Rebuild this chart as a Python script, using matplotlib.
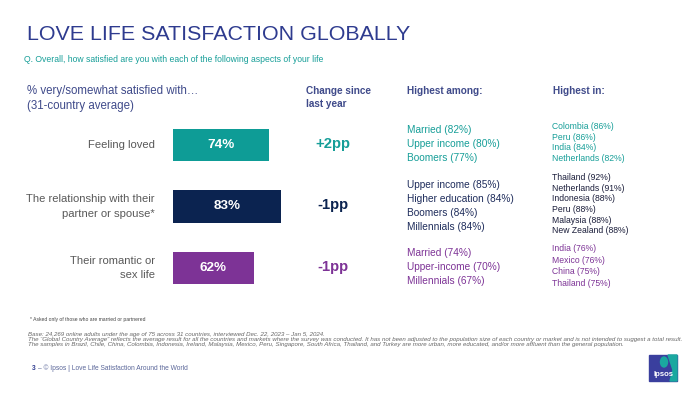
import matplotlib
matplotlib.use("Agg")
import matplotlib.pyplot as plt
from matplotlib.patches import Rectangle, Polygon, Ellipse

plt.rcParams['font.family'] = ['Liberation Sans', 'DejaVu Sans']

# ---------------- data ----------------
categories = ["Feeling loved",
              "The relationship with their\npartner or spouse*",
              "Their romantic or\nsex life"]
values = [74, 83, 62]
changes = ["+2pp", "-1pp", "-1pp"]
highest_among = [
    ["Married (82%)", "Upper income (80%)", "Boomers (77%)"],
    ["Upper income (85%)", "Higher education (84%)", "Boomers (84%)", "Millennials (84%)"],
    ["Married (74%)", "Upper-income (70%)", "Millennials (67%)"],
]
highest_in = [
    ["Colombia (86%)", "Peru (86%)", "India (84%)", "Netherlands (82%)"],
    ["Thailand (92%)", "Netherlands (91%)", "Indonesia (88%)", "Peru (88%)",
     "Malaysia (88%)", "New Zealand (88%)"],
    ["India (76%)", "Mexico (76%)", "China (75%)", "Thailand (75%)"],
]
title = "LOVE LIFE SATISFACTION GLOBALLY"
subtitle = "Q. Overall, how satisfied are you with each of the following aspects of your life"
footnote = "* Asked only of those who are married or partnered"
notes = [
    "Base: 24,269 online adults under the age of 75 across 31 countries, interviewed Dec. 22, 2023 \u2013 Jan 5, 2024.",
    "The \u201cGlobal Country Average\u201d reflects the average result for all the countries and markets where the survey was conducted. It has not been adjusted to the population size of each country or market and is not intended to suggest a total result.",
    "The samples in Brazil, Chile, China, Colombia, Indonesia, Ireland, Malaysia, Mexico, Peru, Singapore, South Africa, Thailand, and Turkey are more urban, more educated, and/or more affluent than the general population.",
]

# ---------------- style ----------------
bar_colors = ["#0E9C96", "#0B2350", "#7D3396"]
among_colors = ["#169E98", "#1F2D5C", "#7D3396"]
in_colors = ["#169E98", "#1A1D3A", "#7D3396"]
change_colors = ["#169E98", "#0B2350", "#7D3396"]
blue = "#2E3B8F"
head_blue = "#3F4A8A"
gray = "#595959"

W, H = 700, 394
fig = plt.figure(figsize=(7, 3.94), dpi=100)
fig.patch.set_facecolor("white")


def fx(x):
    return x / W


def fy(y):
    return 1 - y / H


def T(x, y, s, **kw):
    fig.text(fx(x), fy(y), s, **kw)


# bars
top_c, step = 144.7, 61.8
n_bars = len(values)
ax = fig.add_axes([fx(173), 1 - (top_c - step / 2 + n_bars * step) / H,
                   130 / W, n_bars * step / H])
ax.barh(range(n_bars), values, height=0.52, color=bar_colors)
ax.set_xlim(0, 100)
ax.set_ylim(n_bars - 0.5, -0.5)
ax.axis("off")
for i, v in enumerate(values):
    ax.text(v / 2, i, f"{v}%", ha="center", va="center", color="white",
            fontweight="bold", fontsize=9.7)

# title + subtitle
T(27, 35, title, fontsize=15.4, color=blue, va="center", ha="left")
T(24, 59, subtitle, fontsize=6.25, color="#169E98", va="center", ha="left")

# column heads
T(27, 91, "% very/somewhat satisfied with\u2026", fontsize=8.3, color=head_blue, va="center")
T(27, 106, "(31-country average)", fontsize=8.3, color=head_blue, va="center")
T(306, 91, "Change since", fontsize=7.2, color=head_blue, va="center", fontweight="bold")
T(306, 103.7, "last year", fontsize=7.2, color=head_blue, va="center", fontweight="bold")
T(407, 91, "Highest among:", fontsize=7.2, color=head_blue, va="center", fontweight="bold")
T(553, 91, "Highest in:", fontsize=7.2, color=head_blue, va="center", fontweight="bold")

in_steps = [10.5, 10.7, 11.5]
for i in range(n_bars):
    c = top_c + i * step
    T(155, c, categories[i], fontsize=8.1, color=gray, ha="right", va="center",
      linespacing=1.55)
    T(333, c - 1, changes[i], fontsize=10.7, fontweight="bold", color=change_colors[i],
      ha="center", va="center")
    n = len(highest_among[i])
    for j, s in enumerate(highest_among[i]):
        T(407, c - 1 + (j - (n - 1) / 2) * 14, s, fontsize=7.3, color=among_colors[i], va="center")
    n = len(highest_in[i])
    for j, s in enumerate(highest_in[i]):
        T(552, c - 2.3 + (j - (n - 1) / 2) * in_steps[i], s, fontsize=6.2,
          color=in_colors[i], va="center")

# footnotes
T(30, 319, footnote, fontsize=3.6, color="#444444", va="center")
for k, s in enumerate(notes):
    T(28, 334.5 + k * 5.0, s, fontsize=4.4, color="#666666", style="italic", va="center")

T(32, 368, "3", fontsize=4.8, color="#2E3B8F", fontweight="bold", va="center")
T(37.5, 368, "\u2013 \u00a9 Ipsos | Love Life Satisfaction Around the World", fontsize=4.8,
  color="#5A6699", va="center")

# Ipsos logo
lx0, ly0, lx1, ly1 = 649, 355, 677, 381
fig.patches.append(Rectangle((fx(lx0), fy(ly1)), (lx1 - lx0) / W, (ly1 - ly0) / H,
                             transform=fig.transFigure, color="#3A3F9E", zorder=1))
fig.patches.append(Polygon([(fx(668), fy(ly0)), (fx(lx1), fy(ly0)), (fx(lx1), fy(ly1)),
                            (fx(670), fy(ly1)), (fx(673), fy(370))],
                           closed=True, transform=fig.transFigure, color="#1AA8A0", zorder=2))
fig.patches.append(Ellipse((fx(664), fy(362)), 7 / W, 10 / H, transform=fig.transFigure,
                           color="#1AA8A0", zorder=3))
T(663, 375, "Ipsos", fontsize=5.6, color="white", fontweight="bold", ha="center", va="center", zorder=4)

fig.savefig("out.png", dpi=100)
